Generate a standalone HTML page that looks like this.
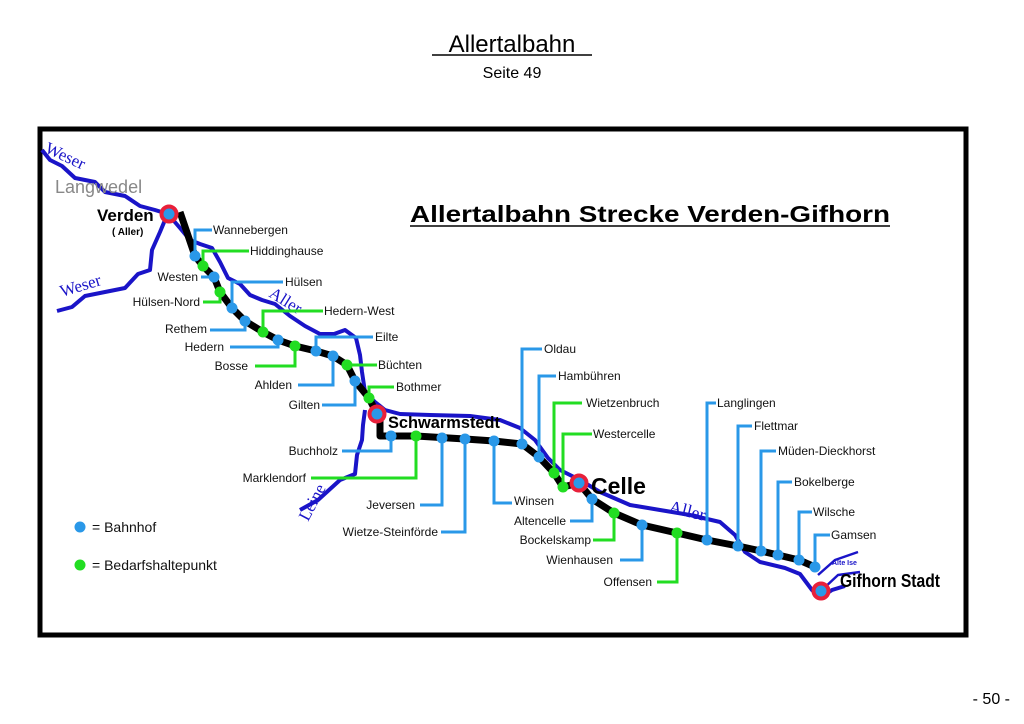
<!DOCTYPE html>
<html><head><meta charset="utf-8"><style>
body{margin:0;background:#fff;width:1024px;height:724px;overflow:hidden}
svg{display:block}
.l{font-family:"Liberation Sans",sans-serif;font-size:12px;fill:#111}
.e{text-anchor:end}
</style></head><body>
<svg width="1024" height="724" viewBox="0 0 1024 724" xmlns="http://www.w3.org/2000/svg">
<text x="512" y="52" text-anchor="middle" font-family="Liberation Sans,sans-serif" font-size="24" fill="#000">Allertalbahn</text>
<line x1="432" y1="55" x2="592" y2="55" stroke="#000" stroke-width="1.5"/>
<text x="512" y="78" text-anchor="middle" font-family="Liberation Sans,sans-serif" font-size="16" fill="#000">Seite 49</text>
<text x="1010" y="704" text-anchor="end" font-family="Liberation Sans,sans-serif" font-size="16" fill="#000">- 50 -</text>
<rect x="40" y="129" width="926" height="506" fill="#fff" stroke="#000" stroke-width="5"/>

<g fill="none" stroke="#1a14c8" stroke-width="4" stroke-linejoin="round">
<path d="M42,150 L50,160 L62,166 L75,178 L95,182 L105,192 L125,196 L140,206 L155,210 L168,214 L180,228 L190,240 L200,244 L212,248 L220,262 L228,278 L240,284 L250,295 L262,300 L275,304 L290,316 L305,326 L320,334 L334,334 L345,330 L356,338 L360,355 L362,372 L365,392 L375,402 L385,410 L400,414 L430,415 L470,416 L500,420 L520,428 L535,440 L548,458 L560,470 L580,480 L600,492 L630,505 L660,510 L690,515 L720,522 L735,535 L745,552 L760,562 L785,568 L800,574 L812,590 L820,598 L832,590 L845,586"/>
<path d="M57,311 L72,307 L85,296 L105,292 L125,288 L138,274 L150,270 L152,250 L160,232 L165,220"/>
<path d="M300,510 L318,500 L340,480 L355,474 L357,455 L362,440 L363,425 L365,410"/>
<path d="M818,575 L835,560 L858,552" stroke-width="2.5"/>
<path d="M822,590 L838,575 L860,572" stroke-width="2.5"/>
</g>
<text transform="translate(44,152) rotate(25)" font-family="Liberation Serif,serif" font-size="17" fill="#1a14c8">Weser</text>
<text transform="translate(62,297) rotate(-17)" font-family="Liberation Serif,serif" font-size="17" fill="#1a14c8">Weser</text>
<text transform="translate(268,296) rotate(32)" font-family="Liberation Serif,serif" font-size="17" fill="#1a14c8">Aller</text>
<text transform="translate(308,522) rotate(-62)" font-family="Liberation Serif,serif" font-size="17" fill="#1a14c8">Leine</text>
<text transform="translate(668,512) rotate(14)" font-family="Liberation Serif,serif" font-size="18" fill="#1a14c8">Aller</text>
<text x="832" y="565" font-family="Liberation Sans,sans-serif" font-size="7" font-weight="bold" fill="#1a14c8">Alte Ise</text>
<text x="55" y="193" font-family="Liberation Sans,sans-serif" font-size="18" fill="#888">Langwedel</text>
<text x="97" y="221" font-family="Liberation Sans,sans-serif" font-size="17" font-weight="bold" fill="#000">Verden</text>
<text x="112" y="235" font-family="Liberation Sans,sans-serif" font-size="10" font-weight="bold" fill="#000">( Aller)</text>
<text x="388" y="428" font-family="Liberation Sans,sans-serif" font-size="17" font-weight="bold" fill="#000" textLength="112" lengthAdjust="spacingAndGlyphs">Schwarmstedt</text>
<text x="591" y="494" font-family="Liberation Sans,sans-serif" font-size="23" font-weight="bold" fill="#000">Celle</text>
<text x="840" y="587" font-family="Liberation Sans,sans-serif" font-size="18" font-weight="bold" fill="#000" textLength="100" lengthAdjust="spacingAndGlyphs">Gifhorn Stadt</text>

<text x="410" y="222" font-family="Liberation Sans,sans-serif" font-size="23" font-weight="bold" fill="#000" textLength="480" lengthAdjust="spacingAndGlyphs">Allertalbahn Strecke Verden-Gifhorn</text>
<line x1="410" y1="226" x2="890" y2="226" stroke="#000" stroke-width="1.5"/>

<path d="M180,212 L195,256 L203,266 L214,277 L220,292 L232,308 L245,321 L263,332 L278,340 L295,346 L316,351 L333,356 L347,365 L355,381 L369,398 L377,414 L380,418 L380,436 L416,436 L465,439 L494,441 L522,444 L539,457 L554,473 L563,487 L579,483 L592,499 L614,513 L642,525 L677,533 L707,540 L738,546 L761,551 L778,555 L799,560 L815,567" fill="none" stroke="#000" stroke-width="7" stroke-linejoin="round"/>

<g fill="none" stroke-width="3">
<g stroke="#2a98e8">
<path d="M195,256 V230 H212"/><path d="M214,277 H201"/><path d="M232,308 V282 H283"/>
<path d="M245,321 V330 H210"/><path d="M278,340 V347 H230"/><path d="M316,351 V337 H373"/>
<path d="M333,356 V385 H298"/><path d="M355,381 V405 H322"/><path d="M391,436 V451 H342"/>
<path d="M442,438 V505 H420"/><path d="M465,439 V532 H441"/><path d="M494,441 V503 H512"/>
<path d="M522,444 V349 H542"/><path d="M539,457 V376 H556"/><path d="M592,499 V521 H570"/>
<path d="M642,525 V560 H620"/><path d="M707,540 V403 H716"/><path d="M738,546 V426 H752"/>
<path d="M761,551 V451 H776"/><path d="M778,555 V482 H792"/><path d="M799,560 V512 H812"/>
<path d="M815,567 V535 H830"/>
</g>
<g stroke="#22dd22">
<path d="M203,266 V251 H249"/><path d="M220,292 V302 H203"/><path d="M263,332 V311 H323"/>
<path d="M295,346 V366 H255"/><path d="M347,365 H377"/><path d="M369,398 V387 H394"/>
<path d="M416,436 V478 H311"/><path d="M554,473 V403 H582"/><path d="M563,487 V434 H592"/>
<path d="M614,513 V540 H593"/><path d="M677,533 V582 H657"/>
</g>
</g>

<g fill="#2a98e8">
<circle cx="195" cy="256" r="5.5"/><circle cx="214" cy="277" r="5.5"/><circle cx="232" cy="308" r="5.5"/>
<circle cx="245" cy="321" r="5.5"/><circle cx="278" cy="340" r="5.5"/><circle cx="316" cy="351" r="5.5"/>
<circle cx="333" cy="356" r="5.5"/><circle cx="355" cy="381" r="5.5"/><circle cx="391" cy="436" r="5.5"/>
<circle cx="442" cy="438" r="5.5"/><circle cx="465" cy="439" r="5.5"/><circle cx="494" cy="441" r="5.5"/>
<circle cx="522" cy="444" r="5.5"/><circle cx="539" cy="457" r="5.5"/><circle cx="592" cy="499" r="5.5"/>
<circle cx="642" cy="525" r="5.5"/><circle cx="707" cy="540" r="5.5"/><circle cx="738" cy="546" r="5.5"/>
<circle cx="761" cy="551" r="5.5"/><circle cx="778" cy="555" r="5.5"/><circle cx="799" cy="560" r="5.5"/>
<circle cx="815" cy="567" r="5.5"/>
<circle cx="80" cy="527" r="5.5"/>
</g>
<g fill="#22dd22">
<circle cx="203" cy="266" r="5.5"/><circle cx="220" cy="292" r="5.5"/><circle cx="263" cy="332" r="5.5"/>
<circle cx="295" cy="346" r="5.5"/><circle cx="347" cy="365" r="5.5"/><circle cx="369" cy="398" r="5.5"/>
<circle cx="416" cy="436" r="5.5"/><circle cx="554" cy="473" r="5.5"/><circle cx="563" cy="487" r="5.5"/>
<circle cx="614" cy="513" r="5.5"/><circle cx="677" cy="533" r="5.5"/>
<circle cx="80" cy="565" r="5.5"/>
</g>
<g fill="#2a98e8" stroke="#e8203a" stroke-width="4">
<circle cx="169" cy="214" r="7.5"/><circle cx="377" cy="414" r="7.5"/><circle cx="579" cy="483" r="7.5"/><circle cx="821" cy="591" r="7.5"/>
</g>

<g class="l">
<text x="213" y="234">Wannebergen</text>
<text x="250" y="255">Hiddinghause</text>
<text x="198" y="281" class="e">Westen</text>
<text x="285" y="286">Hülsen</text>
<text x="200" y="306" class="e">Hülsen-Nord</text>
<text x="207" y="333" class="e">Rethem</text>
<text x="224" y="351" class="e">Hedern</text>
<text x="248" y="370" class="e">Bosse</text>
<text x="324" y="315">Hedern-West</text>
<text x="375" y="341">Eilte</text>
<text x="292" y="389" class="e">Ahlden</text>
<text x="378" y="369">Büchten</text>
<text x="320" y="409" class="e">Gilten</text>
<text x="396" y="391">Bothmer</text>
<text x="338" y="455" class="e">Buchholz</text>
<text x="306" y="482" class="e">Marklendorf</text>
<text x="415" y="509" class="e">Jeversen</text>
<text x="438" y="536" class="e">Wietze-Steinförde</text>
<text x="514" y="505">Winsen</text>
<text x="544" y="353">Oldau</text>
<text x="558" y="380">Hambühren</text>
<text x="586" y="407">Wietzenbruch</text>
<text x="593" y="438">Westercelle</text>
<text x="566" y="525" class="e">Altencelle</text>
<text x="591" y="544" class="e">Bockelskamp</text>
<text x="613" y="564" class="e">Wienhausen</text>
<text x="652" y="586" class="e">Offensen</text>
<text x="717" y="407">Langlingen</text>
<text x="754" y="430">Flettmar</text>
<text x="778" y="455">Müden-Dieckhorst</text>
<text x="794" y="486">Bokelberge</text>
<text x="813" y="516">Wilsche</text>
<text x="831" y="539">Gamsen</text>
</g>
<text x="92" y="532" font-family="Liberation Sans,sans-serif" font-size="14" fill="#111">= Bahnhof</text>
<text x="92" y="570" font-family="Liberation Sans,sans-serif" font-size="14" fill="#111">= Bedarfshaltepunkt</text>
</svg>
</body></html>
